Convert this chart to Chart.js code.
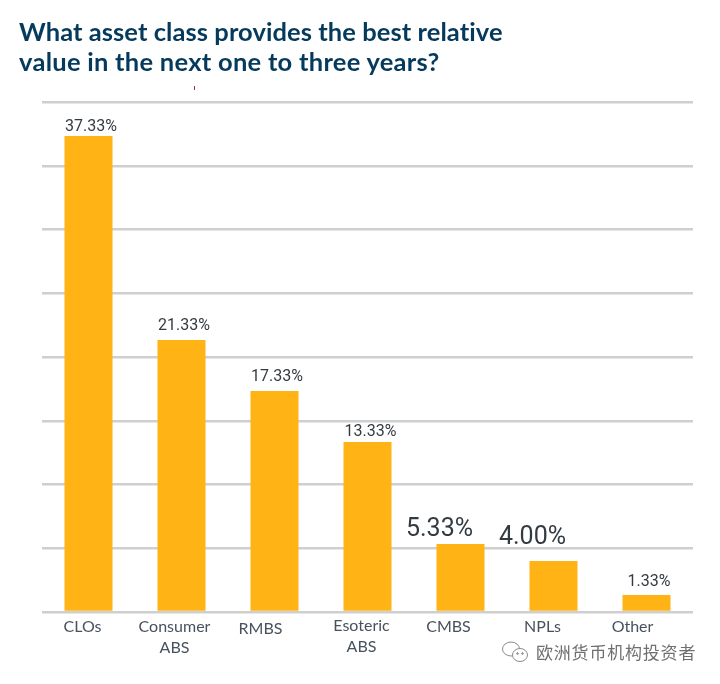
<!DOCTYPE html>
<html>
<head>
<meta charset="utf-8">
<script src="https://cdn.jsdelivr.net/npm/chart.js@4"></script>
<style>
  html, body { margin: 0; padding: 0; background: #fff; }
  #wrap { position: relative; width: 720px; height: 684px; overflow: hidden; }
  #wrap canvas { position: absolute; left: 0; top: 0; }
  h1 { position: absolute; left: 19px; top: 16px; margin: 0; font: 700 25.5px/30px Lato, sans-serif; color: #053a5c; white-space: nowrap; }
  #tick { position: absolute; left: 194px; top: 86px; width: 1px; height: 4px; background: #a3283f; }
  #mark { position: absolute; left: 536px; top: 640px; font: 17px/24px "Noto Sans CJK SC", sans-serif; letter-spacing: 0.8px; color: #6f6f6f; white-space: nowrap; }
  #wechat { position: absolute; left: 501px; top: 640px; }
</style>
</head>
<body>
<div id="wrap">
  <canvas id="chart" width="720" height="684"></canvas>
  <h1><span style="letter-spacing:.07px">What asset class provides the best relative</span><br><span style="letter-spacing:.27px">value in the next one to three years?</span></h1>
  <div id="tick"></div>
  <svg id="wechat" width="30" height="24" viewBox="0 0 30 24" fill="none" stroke="#8a8a8a" stroke-width="1">
    <ellipse cx="10" cy="9" rx="8.5" ry="7"/>
    <ellipse cx="19" cy="15" rx="7.5" ry="6.5" fill="#fff"/>
    <circle cx="16.5" cy="13.5" r="0.8" fill="#8a8a8a"/>
    <circle cx="21.5" cy="13.5" r="0.8" fill="#8a8a8a"/>
  </svg>
  <div id="mark">欧洲货币机构投资者</div>
</div>
<script>
const categories = [["CLOs"], ["Consumer", "ABS"], ["RMBS"], ["Esoteric", "ABS"], ["CMBS"], ["NPLs"], ["Other"]];
const values = [37.33, 21.33, 17.33, 13.33, 5.33, 4.00, 1.33];
const yTicks = [0, 5, 10, 15, 20, 25, 30, 35, 40];

// the labels are not evenly placed in the original
const labelFontSizes = [16, 16, 16, 16, 25, 25, 16];
const labelShiftX = [2.5, 2.5, 2.5, 3, -21, -21, 2.5];
const labelShiftY = [-5, -10, -10, -6, -8, -17, -9];
const tickShiftX = [-6, -7, -14, -6, -12, -11, -14];
const tickShiftY = [0, 0, 2, -1, 0, 0, 0];

const valueLabels = {
  id: "valueLabels",
  afterDatasetsDraw(chart) {
    const ctx = chart.ctx;
    ctx.save();
    ctx.textAlign = "center";
    ctx.textBaseline = "alphabetic";
    ctx.fillStyle = "#333b42";
    chart.getDatasetMeta(0).data.forEach((bar, i) => {
      ctx.font = labelFontSizes[i] + "px Roboto, sans-serif";
      ctx.fillText(values[i].toFixed(2) + "%", bar.x + labelShiftX[i], bar.y + labelShiftY[i]);
    });
    ctx.restore();
  }
};

const shiftedTicks = {
  id: "shiftedTicks",
  afterDraw(chart) {
    const ctx = chart.ctx;
    const x = chart.scales.x;
    ctx.save();
    ctx.textAlign = "center";
    ctx.fillStyle = "#47525e";
    ctx.font = "16px Lato, sans-serif";
    x.ticks.forEach((t, i) => {
      const lines = categories[i];
      lines.forEach((line, n) => {
        ctx.fillText(line, x.getPixelForTick(i) + tickShiftX[i], chart.chartArea.bottom + 20 + tickShiftY[i] + n * 21);
      });
    });
    ctx.restore();
  }
};

new Chart(document.getElementById("chart"), {
  type: "bar",
  data: {
    labels: categories,
    datasets: [{
      data: values,
      backgroundColor: "#ffb315",
      barPercentage: 0.516,
      categoryPercentage: 1
    }]
  },
  plugins: [valueLabels, shiftedTicks],
  options: {
    responsive: false,
    animation: false,
    layout: { padding: { left: 42, right: 27, top: 102, bottom: 64 } },
    plugins: { legend: { display: false }, title: { display: false }, tooltip: { enabled: false } },
    scales: {
      x: {
        grid: { display: false },
        border: { display: false },
        ticks: { display: false }
      },
      y: {
        min: 0,
        max: 40,
        afterBuildTicks: axis => { axis.ticks = yTicks.map(v => ({ value: v })); },
        grid: { color: "#cfcfcf", lineWidth: 2.5, drawTicks: false },
        border: { display: false },
        ticks: { display: false }
      }
    }
  }
});
</script>
</body>
</html>
